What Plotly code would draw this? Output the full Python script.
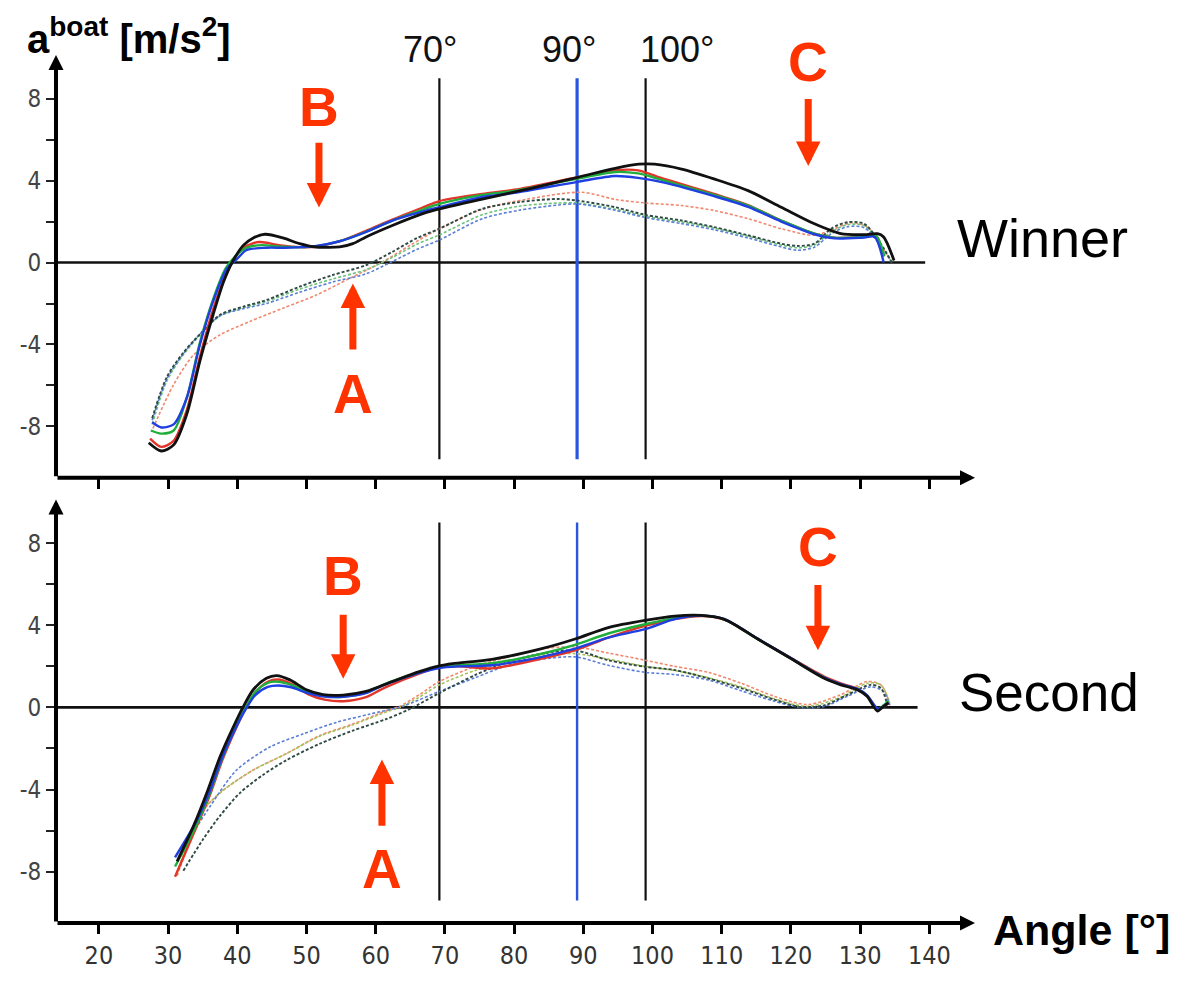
import plotly.graph_objects as go

# ---------------- data ----------------
# Top panel: "Winner" crew — solid curves
win_black_x = [27.2, 29.0, 30.8, 32.7, 34.6, 36.5, 38.0, 39.4, 40.9, 42.3, 44.0, 46.6, 49.0, 51.0, 54.8, 56.7, 58.6, 62.4, 66.9, 69.2, 75.4, 82.6, 89.2, 94.6, 98.0, 100.3, 104.2, 108.9, 113.8, 118.6, 123.4, 127.2, 130.6, 132.5, 133.4, 134.9]
win_black_y = [-8.8, -9.2, -8.9, -7.4, -4.8, -2.55, -0.95, 0.1, 0.85, 1.2, 1.38, 1.2, 0.92, 0.77, 0.76, 0.92, 1.25, 1.81, 2.4, 2.62, 3.1, 3.63, 4.16, 4.6, 4.8, 4.8, 4.56, 4.08, 3.51, 2.7, 1.89, 1.41, 1.36, 1.41, 1.25, 0.1]

win_red_x = [27.4, 29.0, 30.8, 32.7, 34.6, 36.5, 38.2, 39.6, 41.0, 43.2, 46.0, 49.0, 51.5, 54.8, 58.6, 62.4, 66.9, 69.2, 75.4, 80.0, 89.2, 94.6, 97.9, 101.7, 108.9, 113.8, 118.6, 123.4, 126.3, 130.6, 132.3, 133.4]
win_red_y = [-8.6, -9.0, -8.7, -7.2, -4.6, -2.3, -0.7, 0.2, 0.75, 1.0, 0.85, 0.75, 0.78, 1.04, 1.55, 2.1, 2.7, 3.0, 3.35, 3.55, 4.16, 4.5, 4.5, 4.08, 3.35, 2.8, 2.05, 1.41, 1.21, 1.25, 1.3, 0.3]

win_green_x = [27.5, 29.0, 30.8, 32.7, 34.6, 36.5, 38.3, 39.7, 41.2, 43.5, 46.0, 49.0, 51.5, 54.8, 58.6, 62.4, 66.9, 69.2, 75.4, 80.0, 89.2, 94.6, 97.9, 101.7, 108.9, 113.8, 118.6, 123.4, 126.3, 130.6, 132.3, 133.5]
win_green_y = [-8.2, -8.35, -8.2, -6.6, -3.9, -1.8, -0.3, 0.3, 0.7, 0.85, 0.78, 0.75, 0.8, 1.04, 1.5, 2.05, 2.6, 2.86, 3.3, 3.5, 4.1, 4.42, 4.35, 4.0, 3.3, 2.78, 2.05, 1.41, 1.21, 1.25, 1.3, 0.3]

win_blue_x = [27.7, 29.0, 30.8, 32.7, 34.6, 36.5, 38.5, 39.9, 41.3, 44.2, 47.0, 51.2, 54.8, 58.6, 62.4, 66.9, 69.2, 75.4, 80.0, 89.2, 94.6, 97.9, 101.7, 108.9, 113.8, 118.6, 123.4, 126.3, 130.6, 132.1, 133.4]
win_blue_y = [-7.8, -8.05, -7.9, -6.6, -4.0, -1.9, -0.29, 0.15, 0.6, 0.72, 0.72, 0.8, 1.04, 1.49, 2.05, 2.5, 2.7, 3.2, 3.4, 3.94, 4.22, 4.13, 3.9, 3.24, 2.72, 2.0, 1.38, 1.18, 1.22, 1.25, 0.0]

# Top panel — dashed curves
win_dash_x = [27.7, 29.8, 32.2, 34.6, 37.5, 40.9, 44.2, 49.0, 53.8, 58.6, 62.4, 66.0, 69.2, 75.4, 80.7, 86.2, 89.2, 94.6, 98.9, 104.2, 108.9, 113.8, 118.6, 121.0, 123.4, 125.8, 128.2, 130.6, 133.0, 134.6]
win_dash_black_y = [-7.6, -5.6, -4.4, -3.5, -2.55, -2.15, -1.83, -1.18, -0.61, -0.13, 0.52, 1.2, 1.65, 2.62, 2.95, 3.1, 3.02, 2.7, 2.33, 2.05, 1.73, 1.33, 0.92, 0.81, 0.92, 1.65, 1.97, 1.89, 0.9, 0.0]
win_dash_green_y = [-7.9, -5.8, -4.5, -3.55, -2.6, -2.2, -1.9, -1.3, -0.8, -0.35, 0.25, 0.9, 1.35, 2.33, 2.75, 2.9, 2.9, 2.6, 2.25, 1.98, 1.68, 1.28, 0.85, 0.72, 0.85, 1.5, 1.85, 1.8, 0.85, 0.0]
win_dash_blue_y = [-7.7, -5.7, -4.45, -3.5, -2.6, -2.25, -2.0, -1.45, -0.95, -0.55, 0.05, 0.65, 1.1, 2.14, 2.55, 2.8, 2.86, 2.55, 2.2, 1.9, 1.6, 1.2, 0.76, 0.6, 0.75, 1.4, 1.75, 1.7, 0.8, 0.0]
win_dash_red_x = [27.8, 30.8, 33.7, 37.5, 41.8, 46.6, 51.4, 56.2, 61.0, 65.0, 69.2, 75.4, 82.0, 89.8, 94.6, 98.9, 104.2, 108.9, 113.8, 118.6, 123.4, 126.3, 128.7, 131.1, 133.0, 134.4]
win_dash_red_y = [-8.1, -5.96, -4.5, -3.53, -2.88, -2.23, -1.59, -0.78, 0.03, 0.85, 1.65, 2.6, 3.1, 3.43, 3.08, 2.91, 2.78, 2.54, 2.14, 1.65, 1.33, 1.65, 1.94, 1.73, 0.84, 0.1]

# Bottom panel: "Second" crew — solid curves
sec_black_x = [31.3, 33.7, 35.6, 37.5, 39.4, 40.9, 42.3, 44.2, 45.7, 47.6, 50.0, 52.4, 55.3, 58.6, 62.4, 66.3, 69.2, 71.1, 76.8, 84.0, 88.8, 93.6, 98.9, 103.2, 107.1, 110.4, 115.2, 120.0, 124.8, 127.2, 129.6, 131.0, 132.5, 133.2, 134.1]
sec_black_y = [-7.5, -5.76, -4.16, -2.41, -0.97, 0.06, 0.86, 1.42, 1.55, 1.34, 0.86, 0.62, 0.6, 0.78, 1.26, 1.74, 2.02, 2.13, 2.34, 2.86, 3.33, 3.89, 4.24, 4.45, 4.48, 4.29, 3.33, 2.38, 1.42, 1.1, 0.86, 0.54, -0.18, 0.0, 0.22]

sec_col_x = [31.0, 34.0, 36.0, 37.8, 39.7, 41.2, 42.6, 44.4, 45.9, 47.8, 50.2, 52.6, 55.3, 58.6, 61.4, 66.3, 69.2, 72.0, 76.8, 84.0, 88.8, 93.6, 98.9, 103.2, 107.1, 110.4, 115.2, 120.0, 124.8, 127.2, 129.6, 131.0, 132.5, 133.2, 134.1]
sec_red_y = [-8.25, -5.9, -4.3, -2.6, -1.1, -0.05, 0.72, 1.25, 1.36, 1.15, 0.65, 0.38, 0.3, 0.5, 0.98, 1.65, 1.95, 2.0, 1.9, 2.38, 2.78, 3.4, 3.97, 4.3, 4.45, 4.27, 3.33, 2.4, 1.5, 1.17, 0.9, 0.55, -0.1, 0.0, 0.2]
sec_green_y = [-7.75, -5.8, -4.2, -2.5, -1.0, 0.0, 0.75, 1.2, 1.25, 1.1, 0.75, 0.55, 0.52, 0.72, 1.15, 1.7, 1.97, 2.05, 2.15, 2.62, 3.05, 3.6, 4.05, 4.35, 4.47, 4.28, 3.33, 2.38, 1.44, 1.12, 0.88, 0.55, -0.1, 0.05, 0.3]
sec_blue_y = [-7.3, -5.6, -4.1, -2.45, -1.05, -0.1, 0.6, 1.0, 1.07, 0.98, 0.7, 0.53, 0.52, 0.7, 1.12, 1.68, 1.92, 2.0, 2.05, 2.46, 2.86, 3.4, 3.81, 4.3, 4.47, 4.3, 3.35, 2.4, 1.45, 1.13, 0.9, 0.6, -0.05, 0.0, 0.25]

# Bottom panel — dashed curves
sec_dash_black_x = [32.2, 35.1, 37.5, 40.4, 43.7, 47.1, 51.9, 56.7, 61.5, 64.8, 69.2, 74.4, 79.2, 84.0, 88.8, 93.6, 98.9, 103.2, 108.0, 112.8, 117.6, 121.4, 124.8, 128.2, 131.5, 133.0, 133.9]
sec_dash_black_y = [-7.95, -6.4, -5.28, -4.16, -3.29, -2.57, -1.77, -1.13, -0.57, -0.1, 0.7, 1.58, 2.22, 2.62, 2.78, 2.3, 1.98, 1.82, 1.42, 0.94, 0.38, 0.02, 0.1, 0.62, 1.1, 0.94, 0.14]
sec_dash_rg_x = [31.3, 33.0, 34.1, 37.5, 42.3, 47.1, 51.9, 56.7, 61.5, 63.5, 66.3, 69.2, 74.4, 79.2, 84.0, 88.8, 93.6, 98.9, 103.2, 108.0, 112.8, 117.6, 122.4, 127.2, 131.0, 133.0, 134.3]
sec_dash_red_y = [-8.2, -6.6, -5.44, -4.16, -3.05, -2.25, -1.37, -0.81, -0.17, 0.06, 0.62, 1.26, 2.0, 2.46, 2.85, 2.95, 2.65, 2.3, 2.0, 1.71, 1.18, 0.54, 0.14, 0.62, 1.26, 1.1, 0.14]
sec_dash_green_y = [-8.0, -6.5, -5.4, -4.16, -3.05, -2.25, -1.4, -0.85, -0.22, 0.0, 0.5, 1.1, 1.8, 2.2, 2.55, 2.62, 2.35, 2.0, 1.8, 1.45, 1.0, 0.42, 0.05, 0.5, 1.18, 1.1, 0.2]
sec_dash_blue_x = [34.0, 36.1, 39.9, 44.7, 49.5, 54.3, 59.1, 63.9, 69.2, 74.4, 79.2, 84.0, 88.8, 93.6, 98.9, 103.2, 108.0, 112.8, 117.6, 121.4, 124.8, 128.2, 131.5, 133.3, 134.3]
sec_dash_blue_y = [-5.9, -4.8, -3.05, -1.93, -1.29, -0.73, -0.33, 0.06, 0.78, 1.45, 2.06, 2.35, 2.46, 2.05, 1.71, 1.6, 1.34, 0.81, 0.3, 0.0, 0.05, 0.55, 1.0, 0.8, 0.1]

# Reference angle lines and labels
ref_angles = [69.2, 89.1, 99.0]
ref_colors = ["#111111", "#2a55dd", "#111111"]
ref_labels = ["70°", "90°", "100°"]
ref_label_x = [67.8, 87.9, 103.6]
top_ref_extent = [-9.6, 9.0]
bot_ref_extent = [-9.4, 9.0]
zero_line_end = [139.4, 138.3]

x_ticks = [20, 30, 40, 50, 60, 70, 80, 90, 100, 110, 120, 130, 140]
y_tick_vals = [-8, -6, -4, -2, 0, 2, 4, 6, 8]
y_tick_text = ["-8", "", "-4", "", "0", "", "4", "", "8"]

X_RANGE = [13.8, 146.6]
Y_RANGE = [-10.5, 10.13]

# Red markers: (label, panel, text x, text y, arrow tail y, arrow tip y)
marks = [
    ("B", 1, 51.8, 7.6, 5.92, 2.68),
    ("A", 1, 56.7, -6.4, -4.32, -1.02),
    ("C", 1, 122.5, 9.8, 8.06, 4.71),
    ("B", 2, 55.3, 6.4, 4.59, 1.39),
    ("A", 2, 60.9, -7.85, -5.84, -2.54),
    ("C", 2, 123.9, 7.8, 6.03, 2.78),
]

RED = "#ff3300"
FONT = "Liberation Sans, Arial, sans-serif"
NARROW = "Liberation Sans Narrow, DejaVu Sans Condensed, Arial Narrow, Liberation Sans, sans-serif"

fig = go.Figure()


def line(x, y, color, width, dash=None, xa="x", ya="y", shape="spline"):
    fig.add_trace(go.Scatter(
        x=x, y=y, mode="lines", xaxis=xa, yaxis=ya,
        line=dict(color=color, width=width, dash=dash, shape=shape, smoothing=0.8),
        hoverinfo="skip", showlegend=False))


for panel, (xa, ya) in enumerate([("x", "y"), ("x2", "y2")]):
    # zero line
    line([X_RANGE[0], zero_line_end[panel]], [0, 0], "#111111", 2.6, xa=xa, ya=ya, shape="linear")
    # reference lines
    ext = top_ref_extent if panel == 0 else bot_ref_extent
    for a, c in zip(ref_angles, ref_colors):
        w = 2.2 if c != "#2a55dd" else (3.2 if panel == 0 else 2.4)
        line([a, a], ext, c, w, xa=xa, ya=ya, shape="linear")

# dashed curves (drawn first, beneath solids)
DASH = "3px,2px"
line(win_dash_red_x, win_dash_red_y, "#f0886e", 1.6, DASH)
line(win_dash_x, win_dash_green_y, "#6cc27a", 1.6, DASH)
line(win_dash_x, win_dash_blue_y, "#5b7fd6", 1.6, DASH)
line(win_dash_x, win_dash_black_y, "#2f4a44", 1.9, DASH)

line(sec_dash_rg_x, sec_dash_red_y, "#f0886e", 1.6, DASH, "x2", "y2")
line(sec_dash_rg_x, sec_dash_green_y, "#a8c25a", 1.6, DASH, "x2", "y2")
line(sec_dash_blue_x, sec_dash_blue_y, "#5b7fd6", 1.6, DASH, "x2", "y2")
line(sec_dash_black_x, sec_dash_black_y, "#2f4a44", 1.9, DASH, "x2", "y2")

# solid curves
line(win_red_x, win_red_y, "#e2352a", 2.4)
line(win_green_x, win_green_y, "#1fae3c", 2.4)
line(win_blue_x, win_blue_y, "#1f3fe0", 2.4)
line(win_black_x, win_black_y, "#111111", 2.8)

line(sec_col_x, sec_red_y, "#e2352a", 2.4, None, "x2", "y2")
line(sec_col_x, sec_green_y, "#1fae3c", 2.4, None, "x2", "y2")
line(sec_col_x, sec_blue_y, "#1f3fe0", 2.4, None, "x2", "y2")
line(sec_black_x, sec_black_y, "#111111", 2.8, None, "x2", "y2")

annotations = []

# axis arrows (drawn as annotation arrows along the axes)
for xa, ya in [("x", "y"), ("x2", "y2")]:
    annotations.append(dict(x=0, y=1, ax=0, ay=0, xref=f"{xa} domain", yref=f"{ya} domain",
                            axref=f"{xa} domain", ayref=f"{ya} domain", text="", showarrow=True,
                            arrowhead=2, arrowsize=0.75, arrowwidth=4, arrowcolor="#000000"))
    annotations.append(dict(x=1, y=0, ax=0, ay=0, xref=f"{xa} domain", yref=f"{ya} domain",
                            axref=f"{xa} domain", ayref=f"{ya} domain", text="", showarrow=True,
                            arrowhead=2, arrowsize=0.75, arrowwidth=4, arrowcolor="#000000"))

# reference angle labels
for lbl, lx in zip(ref_labels, ref_label_x):
    annotations.append(dict(x=lx, y=1.012, xref="x", yref="y domain", text=lbl, showarrow=False,
                            xanchor="center", yanchor="middle",
                            font=dict(family=FONT, size=36, color="#111111")))

# red labels and arrows
for lbl, panel, tx, ty, tail, tip in marks:
    xa = "x" if panel == 1 else "x2"
    ya = "y" if panel == 1 else "y2"
    annotations.append(dict(x=tx, y=ty, xref=xa, yref=ya, text=f"<b>{lbl}</b>", showarrow=False,
                            xanchor="center", yanchor="middle",
                            font=dict(family=FONT, size=55, color=RED)))
    annotations.append(dict(x=tx, y=tip, ax=tx, ay=tail, xref=xa, yref=ya, axref=xa, ayref=ya,
                            text="", showarrow=True, arrowhead=2, arrowsize=0.7, arrowwidth=7,
                            arrowcolor=RED))

# panel names and axis titles
annotations.append(dict(x=1.0737, y=0.7886, xref="paper", yref="paper", text="Winner", showarrow=False,
                        xanchor="center", yanchor="middle", font=dict(family=FONT, size=54, color="#000000")))
annotations.append(dict(x=1.080, y=0.265, xref="paper", yref="paper", text="Second", showarrow=False,
                        xanchor="center", yanchor="middle", font=dict(family=FONT, size=53, color="#000000")))
annotations.append(dict(x=1.1155, y=-0.008, xref="paper", yref="paper", text="<b>Angle [°]</b>", showarrow=False,
                        xanchor="center", yanchor="middle", font=dict(family=FONT, size=43, color="#000000")))
annotations.append(dict(x=-0.0336, y=1.022, xref="paper", yref="paper",
                        text="<b>a<sup>boat</sup> [m/s<sup>2</sup>]</b>", showarrow=False,
                        xanchor="left", yanchor="middle", font=dict(family=FONT, size=40, color="#000000")))

xaxis_common = dict(range=X_RANGE, tickvals=x_ticks, ticks="outside", ticklen=10, tickwidth=3,
                    tickcolor="#000000", showline=False, showgrid=False, zeroline=False)
yaxis_common = dict(range=Y_RANGE, tickvals=y_tick_vals, ticktext=y_tick_text, ticks="outside",
                    ticklen=9, tickwidth=1.5, tickcolor="#222222", showline=False, showgrid=False,
                    zeroline=False, tickfont=dict(family=NARROW, size=24, color="#444444"))

# The page body adds an 8px offset, so the figure is drawn 8px smaller with the
# same plot-area size to land where the reference has it.
fig.update_layout(
    width=1169, height=974,
    margin=dict(l=44, r=202, t=47, b=52),
    plot_bgcolor="white", paper_bgcolor="white",
    xaxis=dict(**xaxis_common, anchor="y", showticklabels=False),
    yaxis=dict(**yaxis_common, domain=[0.5131, 1.0], anchor="x"),
    xaxis2=dict(**xaxis_common, anchor="y2", showticklabels=True,
                tickfont=dict(family=NARROW, size=25, color="#333333")),
    yaxis2=dict(**yaxis_common, domain=[0.0, 0.488], anchor="x2"),
    annotations=annotations,
    showlegend=False,
)

fig.write_html("out.html")
